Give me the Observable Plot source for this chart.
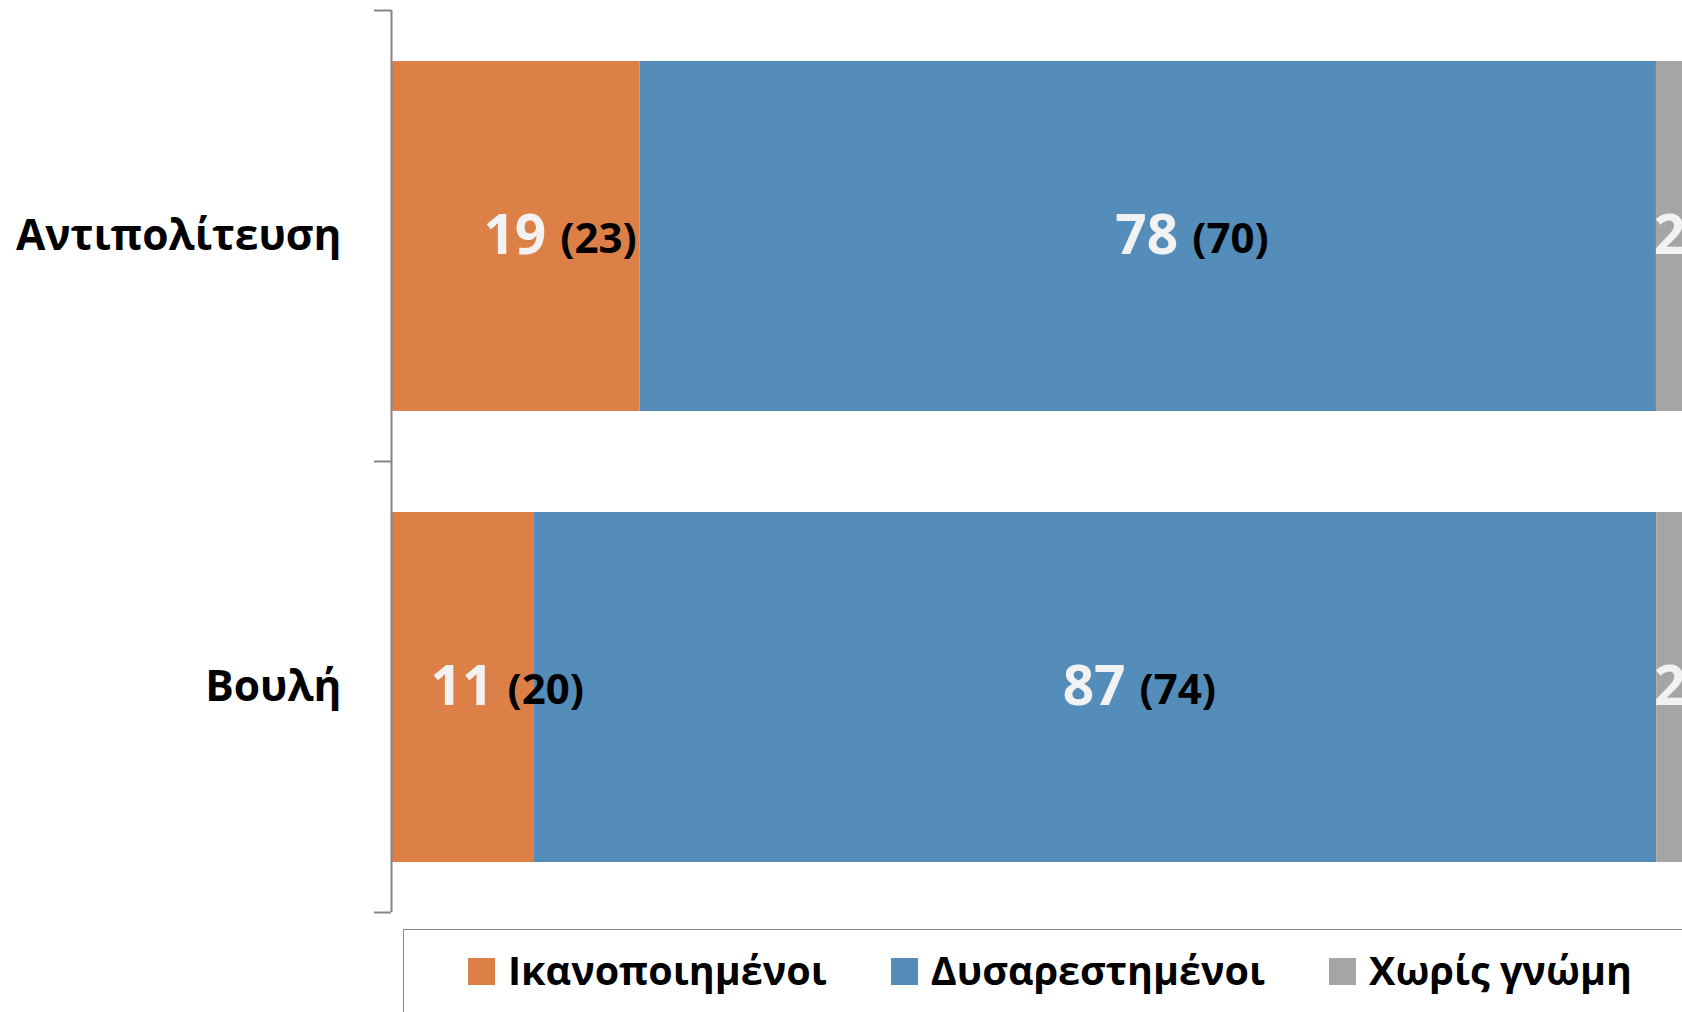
<!DOCTYPE html>
<html><head><meta charset="utf-8">
<script src="https://cdn.jsdelivr.net/npm/d3@7"></script>
<script src="https://cdn.jsdelivr.net/npm/@observablehq/plot@0.6"></script>
<style>
html,body{margin:0;padding:0;background:#fff;overflow:hidden;width:1682px;height:1012px}
#chart svg{display:block;overflow:hidden}
#legend{margin-left:403px;margin-top:4px;width:1300px;height:120px;border:1.5px solid #8a8a8a;box-sizing:border-box;display:flex;align-items:flex-start;padding-left:64px;padding-top:28px;font-family:"Open Sans",sans-serif;font-weight:700;font-size:39.5px;color:#000}
.item{display:flex;align-items:center;height:27px;margin-right:64px;white-space:nowrap}
.sw{width:27px;height:27px;margin-right:13px;flex:none}
.lab{line-height:27px;position:relative;top:-1px}
</style></head><body>
<div id="chart"></div>
<div id="legend"></div>
<script>
const categories = ["Αντιπολίτευση", "Βουλή"];
const seriesNames = ["Ικανοποιημένοι", "Δυσαρεστημένοι", "Χωρίς γνώμη"];
const seriesColors = ["#DD8047", "#548CBA", "#A5A5A5"];
const satisfied = [19, 11];
const dissatisfied = [78, 87];
const noOpinion = [2, 2];
const prevSatisfied = [23, 20];
const prevDissatisfied = [70, 74];

const rows = [];
categories.forEach((c, i) => {
  rows.push({cat: c, series: seriesNames[0], value: satisfied[i], prev: prevSatisfied[i]});
  rows.push({cat: c, series: seriesNames[1], value: dissatisfied[i], prev: prevDissatisfied[i]});
  rows.push({cat: c, series: seriesNames[2], value: noOpinion[i], prev: null});
});

const st = (extra) => Plot.stackX({x: "value", y: "cat", z: "series", offset: "normalize", ...extra});
const font = "'Open Sans', sans-serif";

const plot = Plot.plot({
  width: 1682, height: 925,
  marginTop: 10, marginBottom: 13, marginLeft: 392, marginRight: 0,
  x: {domain: [0, 1], range: [392, 1682], axis: null},
  y: {domain: categories, paddingInner: 0.224, paddingOuter: 0.112, label: null, axis: null},
  color: {domain: seriesNames, range: seriesColors},
  style: {fontFamily: font, background: "white"},
  marks: [
    Plot.barX(rows, st({fill: "series"})),
    Plot.axisY({tickSize: 0, tickPadding: 51, fontSize: 42.5, fontWeight: "bold", fill: "#000", label: null, fontFamily: font}),
    Plot.ruleX([0], {stroke: "#868686", strokeWidth: 2, dx: -1}),
    Plot.text(rows, st({text: d => d.prev != null ? String(d.value) : null, textAnchor: "end", dx: 30, fill: "#F2F2F2", fontSize: 55, fontWeight: "bold", fontFamily: font})),
    Plot.text(rows, st({text: d => d.prev == null ? String(d.value) : null, textAnchor: "middle", fill: "#F2F2F2", fontSize: 55, fontWeight: "bold", fontFamily: font})),
    Plot.text(rows, st({text: d => d.prev != null ? "(" + d.prev + ")" : null, textAnchor: "start", dx: 44, dy: 3, fill: "#000", fontSize: 42, fontWeight: "bold", fontFamily: font}))
  ]
});
document.getElementById("chart").appendChild(plot);

// tick marks at the band boundaries, from the library's y scale
const ys = plot.scale("y");
const xs = plot.scale("x");
const x0 = xs.apply(0) - 1;
const half = (ys.step - ys.bandwidth) / 2;
const edges = categories.map(c => ys.apply(c) - half);
edges.push(ys.apply(categories[categories.length - 1]) + ys.bandwidth + half);
const g = d3.select(plot).append("g").attr("stroke", "#868686").attr("stroke-width", 2);
g.selectAll("line").data(edges).join("line")
  .attr("x1", x0 - 17).attr("x2", x0).attr("y1", d => d).attr("y2", d => d);

// legend
const legend = d3.select("#legend");
seriesNames.forEach((s, i) => {
  const it = legend.append("div").attr("class", "item");
  it.append("div").attr("class", "sw").style("background", seriesColors[i]);
  it.append("span").attr("class", "lab").text(s);
});
</script>
</body></html>
